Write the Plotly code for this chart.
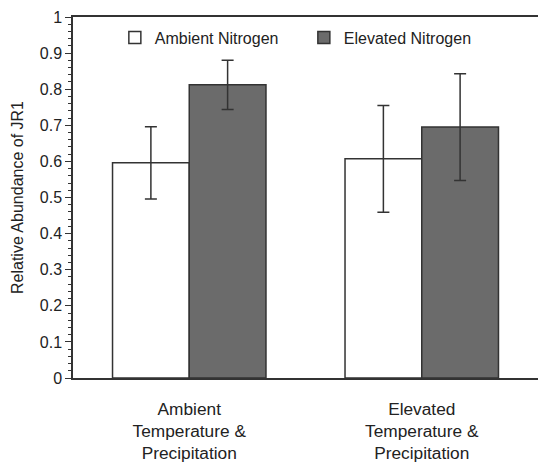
import plotly.graph_objects as go

categories = ["Ambient<br>Temperature &<br>Precipitation",
              "Elevated<br>Temperature &<br>Precipitation"]
ambient_n = [0.596, 0.607]
ambient_err = [0.100, 0.148]
elevated_n = [0.812, 0.695]
elevated_err = [0.068, 0.148]
series_names = ["Ambient Nitrogen", "Elevated Nitrogen"]

FONT = "Liberation Sans, Arial, Helvetica, sans-serif"
TXT = "#222222"
EDGE = "#333333"

fig = go.Figure()
fig.add_trace(go.Bar(
    x=categories, y=ambient_n, name=series_names[0],
    marker=dict(color="white", line=dict(color=EDGE, width=1.5)),
    error_y=dict(type="data", array=ambient_err, color=EDGE, thickness=1.5, width=6),
))
fig.add_trace(go.Bar(
    x=categories, y=elevated_n, name=series_names[1],
    marker=dict(color="#6b6b6b", line=dict(color=EDGE, width=1.5)),
    error_y=dict(type="data", array=elevated_err, color=EDGE, thickness=1.5, width=6),
))

fig.update_layout(
    width=538, height=462,
    margin=dict(l=73, r=0, t=17, b=84, autoexpand=False),
    paper_bgcolor="white", plot_bgcolor="white",
    font=dict(family=FONT, size=16, color=TXT),
    barmode="group", bargap=0.34, bargroupgap=0,
    showlegend=True,
    legend=dict(orientation="h", x=0.09, y=0.99, xanchor="left", yanchor="top",
                bgcolor="rgba(0,0,0,0)", font=dict(size=16, color=TXT),
                entrywidth=144, entrywidthmode="pixels"),
    xaxis=dict(range=[-0.5, 1.5], showline=True, linecolor=EDGE, linewidth=1.5,
               mirror=True, ticks="", showgrid=False, zeroline=False, automargin=False,
               ticklabelstandoff=14,
               tickfont=dict(size=17.3, color=TXT)),
    yaxis=dict(range=[0, 1], dtick=0.1, tickformat="~g", showline=True, automargin=False,
               linecolor=EDGE, linewidth=1.5, ticks="outside", ticklen=6,
               tickcolor=EDGE, tickwidth=1.2, showgrid=False, zeroline=False,
               minor=dict(dtick=0.02, ticks="outside", ticklen=3, tickcolor=EDGE, tickwidth=1),
               tickfont=dict(size=16, color=TXT),
               title=dict(text="Relative Abundance of JR1", font=dict(size=16, color=TXT), standoff=12)),
)

fig.write_html("out.html", config={"displayModeBar": False},
               post_script="document.body.style.margin='0';")
